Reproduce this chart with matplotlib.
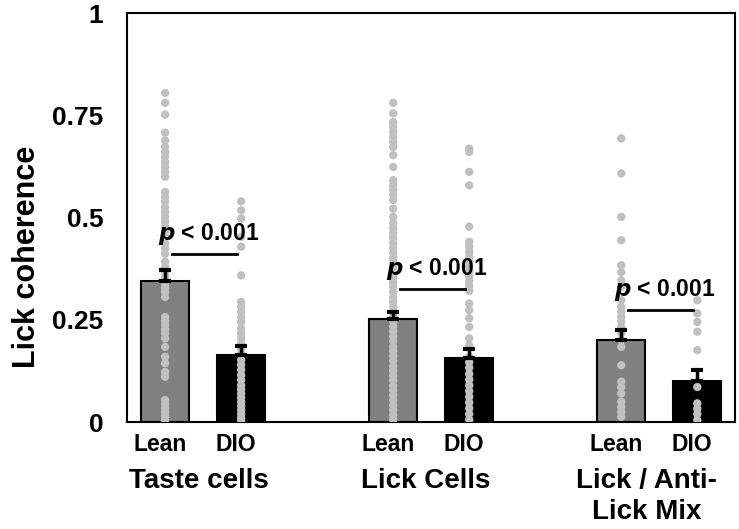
import matplotlib
matplotlib.use('Agg')
import matplotlib.pyplot as plt
import matplotlib.transforms as mtransforms
import numpy as np

plt.rcParams['font.family'] = ['Liberation Sans', 'DejaVu Sans']
plt.rcParams['font.weight'] = 'bold'

groups = ['Taste cells', 'Lick Cells', 'Lick / Anti-\nLick Mix']
conditions = ['Lean', 'DIO']
means = [0.345, 0.164, 0.252, 0.156, 0.200, 0.100]
sems = [0.027, 0.022, 0.017, 0.022, 0.025, 0.027]
p_labels = ['< 0.001', '< 0.001', '< 0.001']
p_heights = [0.411, 0.325, 0.274]

taste_lean = [0.805, 0.781, 0.752, 0.708, 0.689, 0.673, 0.661, 0.649, 0.636, 0.624,
              0.612, 0.600, 0.563, 0.551, 0.539, 0.526, 0.514, 0.502, 0.490, 0.478,
              0.465, 0.453, 0.437, 0.425, 0.412, 0.392, 0.380, 0.367, 0.355, 0.339,
              0.328, 0.318, 0.306, 0.257, 0.247, 0.237, 0.227, 0.217, 0.205, 0.184,
              0.160, 0.144, 0.123, 0.111, 0.054, 0.044, 0.034, 0.024, 0.015, 0.005]
taste_dio = [0.540, 0.518, 0.498, 0.453, 0.429, 0.359, 0.294, 0.282, 0.270, 0.257,
             0.245, 0.229, 0.217, 0.205, 0.192, 0.178, 0.165, 0.152, 0.140, 0.128,
             0.115, 0.103, 0.090, 0.080, 0.070, 0.060, 0.050, 0.040, 0.030, 0.020,
             0.010, 0.002]
lick_lean = [0.781, 0.755, 0.734, 0.722, 0.710, 0.698, 0.685, 0.673, 0.653, 0.624,
             0.592, 0.580, 0.568, 0.556, 0.543, 0.522, 0.502, 0.486, 0.474, 0.462,
             0.450, 0.437, 0.426, 0.414, 0.401, 0.390, 0.378, 0.366, 0.353, 0.342,
             0.330, 0.318, 0.305, 0.294, 0.282, 0.270, 0.258, 0.246, 0.233, 0.222,
             0.210, 0.198, 0.185, 0.174, 0.162, 0.150, 0.137, 0.126, 0.114, 0.102,
             0.089, 0.078, 0.066, 0.054, 0.041, 0.030, 0.018, 0.006]
lick_dio = [0.669, 0.661, 0.612, 0.579, 0.478, 0.441, 0.429, 0.417, 0.405, 0.393,
            0.381, 0.369, 0.357, 0.345, 0.333, 0.321, 0.290, 0.274, 0.254, 0.233,
            0.205, 0.188, 0.160, 0.146, 0.133, 0.118, 0.104, 0.090, 0.076, 0.062,
            0.048, 0.034, 0.020, 0.006]
mix_lean = [0.694, 0.608, 0.502, 0.445, 0.384, 0.367, 0.347, 0.331, 0.298, 0.282,
            0.270, 0.258, 0.246, 0.233, 0.217, 0.200, 0.184, 0.139, 0.099, 0.085,
            0.070, 0.050, 0.037, 0.025, 0.013]
mix_dio = [0.298, 0.266, 0.245, 0.221, 0.176, 0.086, 0.046, 0.033, 0.020, 0.005]

points = [taste_lean, taste_dio, lick_lean, lick_dio, mix_lean, mix_dio]
positions = [0, 1, 3, 4, 6, 7]
bar_colors = ['#808080', '#000000'] * 3

fig = plt.figure(figsize=(7.39, 5.29), dpi=100)
ax = fig.add_axes([0.172, 0.202, 0.823, 0.773])

ax.bar(positions, means, width=0.63, color=bar_colors, edgecolor='black',
       linewidth=1.5, zorder=2)
for x, vals in zip(positions, points):
    ax.scatter([x] * len(vals), vals, s=36, color='#c0c0c0', edgecolors='none', zorder=3)
ax.errorbar(positions, means, yerr=[np.zeros(len(means)), sems], fmt='none',
            ecolor='black', elinewidth=2.5, capsize=4, capthick=3, zorder=4)

for i, (ph, pl) in enumerate(zip(p_heights, p_labels)):
    x0 = positions[2 * i]
    ax.plot([x0 + 0.09, x0 + 0.95], [ph, ph], color='black', lw=2, zorder=5)
    ax.text(x0 + 0.57, ph + 0.018, r'$\bf{\it{p}}$ ' + pl, ha='center', va='bottom',
            fontsize=16.5, fontweight='bold', zorder=6)

ax.set_xlim(-0.5, 7.5)
ax.set_ylim(0, 1)
ax.set_yticks([0, 0.25, 0.5, 0.75, 1])
ax.set_yticklabels(['0', '0.25', '0.5', '0.75', '1'], fontsize=19, fontweight='bold')
ax.tick_params(axis='y', length=0, pad=17)
ax.set_xticks(positions)
ax.set_xticklabels(conditions * 3, fontsize=16.5, fontweight='bold')
ax.tick_params(axis='x', length=0, pad=8)
shift = mtransforms.ScaledTranslation(-5 / 100, 0, fig.dpi_scale_trans)
for lab in ax.get_xticklabels():
    lab.set_transform(lab.get_transform() + shift)
ax.set_ylabel('Lick coherence', fontsize=22, fontweight='bold')
ax.yaxis.set_label_coords(-0.14, 0.403)

trans = mtransforms.blended_transform_factory(ax.transData, ax.transAxes)
group_x = [0.45, 3.43, 6.33]
for gx, g in zip(group_x, groups):
    ax.text(gx, -0.113, g, transform=trans, ha='center', va='top', fontsize=20,
            fontweight='bold', multialignment='center', linespacing=1.25)

for s in ax.spines.values():
    s.set_linewidth(1.5)

fig.savefig('out.png', dpi=100)
